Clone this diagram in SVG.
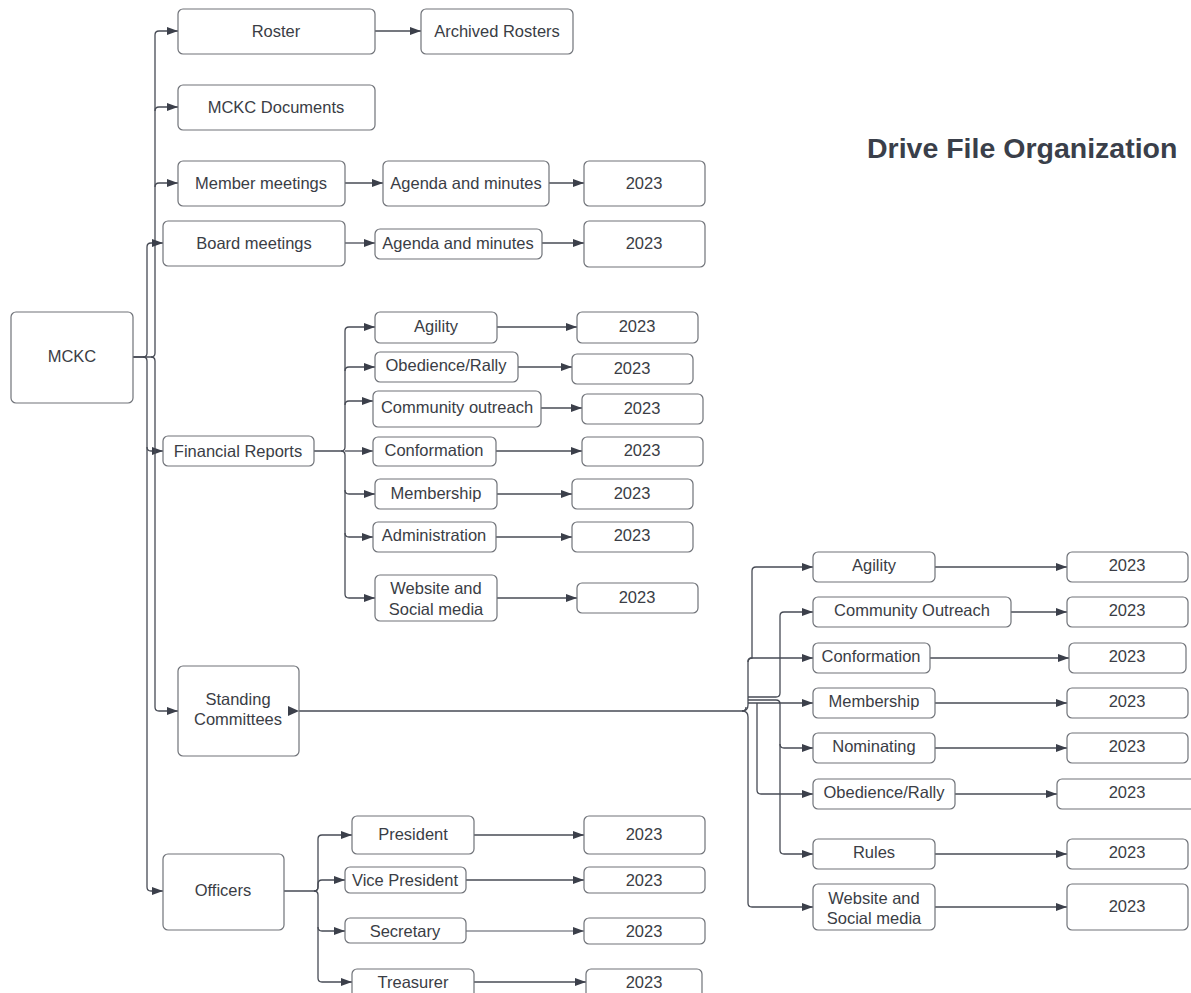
<svg xmlns="http://www.w3.org/2000/svg" width="1191" height="993" viewBox="0 0 1191 993">
<defs>
<marker id="arr" markerWidth="11" markerHeight="8" refX="11" refY="4" orient="auto" markerUnits="userSpaceOnUse"><path d="M0,0 L11,4 L0,8 z" fill="#3b3f4a"/></marker>
<style>
.n rect{fill:#fff;stroke:#707379;stroke-width:1.2}
.n text{font-family:"Liberation Sans",Arial,sans-serif;font-size:16.5px;fill:#3a3d45;text-anchor:middle;dominant-baseline:central}
.c path{fill:none;stroke:#474b55;stroke-width:1.3}
.c .a{marker-end:url(#arr)}
.title{font-family:"Liberation Sans",Arial,sans-serif;font-size:28.5px;font-weight:bold;fill:#3a3f4a}
</style>
</defs>
<rect width="1191" height="993" fill="#fff"/>
<text class="title" x="867" y="158">Drive File Organization</text>

<g class="c" id="connectors">
<path class="a" d="M133,357 H151 Q155,357 155,353 V35 Q155,31 159,31 H178"/>
<path class="a" d="M155,111 Q155,107 159,107 H178"/>
<path class="a" d="M155,187 Q155,183 159,183 H178"/>
<path class="a" d="M133,357 H143 Q147,357 147,353 V247 Q147,243 151,243 H163"/>
<path class="a" d="M143,357 Q147,357 147,361 V887 Q147,891 151,891 H163"/>
<path class="a" d="M147,447 Q147,451 151,451 H163"/>
<path class="a" d="M151,357 Q155,357 155,361 V707 Q155,711 159,711 H178"/>
<path class="a" d="M375,31 H421"/>
<path class="a" d="M345,183 H383"/>
<path class="a" d="M549,183 H584"/>
<path class="a" d="M345,243 H375"/>
<path class="a" d="M542,243 H584"/>
<path class="a" d="M314,451 H341 Q345,451 345,447 V331 Q345,327 349,327 H375"/>
<path class="a" d="M345,371 Q345,367 349,367 H375"/>
<path class="a" d="M345,405 Q345,401 349,401 H373"/>
<path class="a" d="M345,451 H373"/>
<path class="a" d="M341,451 Q345,451 345,455 V594 Q345,598 349,598 H375"/>
<path class="a" d="M345,490 Q345,494 349,494 H375"/>
<path class="a" d="M345,533 Q345,537 349,537 H373"/>
<path class="a" d="M497,327 H577"/>
<path class="a" d="M518,367 H572"/>
<path class="a" d="M541,408 H582"/>
<path class="a" d="M496,451 H582"/>
<path class="a" d="M497,494 H572"/>
<path class="a" d="M496,537 H572"/>
<path class="a" d="M497,598 H577"/>
<path d="M299,711 H742 Q746,711 746,707"/>
<path class="a" d="M742,711 Q748,711 748,705 V662 Q748,658 752,658 V571 Q752,567 756,567 H813"/>
<path class="a" d="M748,662 Q748,658 752,658 H813"/>
<path class="a" d="M748,697 H776 Q780,697 780,693 V616 Q780,612 784,612 H813"/>
<path class="a" d="M748,703 H813"/>
<path class="a" d="M748,700 H776 Q780,700 780,704 V744 Q780,748 784,748 H813"/>
<path class="a" d="M780,744 V850 Q780,854 784,854 H813"/>
<path class="a" d="M757,703 V790 Q757,794 761,794 H813"/>
<path class="a" d="M742,711 Q748,711 748,717 V903 Q748,907 752,907 H813"/>
<path class="a" d="M935,567 H1067"/>
<path class="a" d="M1011,612 H1067"/>
<path class="a" d="M930,658 H1069"/>
<path class="a" d="M935,703 H1067"/>
<path class="a" d="M935,748 H1067"/>
<path class="a" d="M955,794 H1057"/>
<path class="a" d="M935,854 H1067"/>
<path class="a" d="M935,907 H1067"/>
<path d="M284,891 H314 Q318,891 318,887 V839 Q318,835 322,835 H352" class="a"/>
<path class="a" d="M314,891 Q318,891 318,887 V884 Q318,880 322,880 H345"/>
<path class="a" d="M314,891 Q318,891 318,895 V927 Q318,931 322,931 H345"/>
<path class="a" d="M318,927 V978 Q318,982 322,982 H352"/>
<path class="a" d="M474,835 H584"/>
<path class="a" d="M466,880 H584"/>
<path class="a" d="M466,931 H584" style="stroke:#8a8d94"/>
<path class="a" d="M474,982 H586"/>
</g>

<g class="n" id="n-mckc"><rect x="11" y="312" width="122" height="91" rx="5"/><text x="72" y="356">MCKC</text></g>
<g class="n" id="n-roster"><rect x="178" y="9" width="197" height="45" rx="5"/><text x="276" y="31">Roster</text></g>
<g class="n" id="n-archived"><rect x="421" y="9" width="152" height="45" rx="5"/><text x="497" y="31">Archived Rosters</text></g>
<g class="n" id="n-docs"><rect x="178" y="85" width="197" height="45" rx="5"/><text x="276" y="107">MCKC Documents</text></g>
<g class="n" id="n-member"><rect x="178" y="161" width="167" height="45" rx="5"/><text x="261" y="183">Member meetings</text></g>
<g class="n" id="n-member-agenda"><rect x="383" y="161" width="166" height="45" rx="5"/><text x="466" y="183">Agenda and minutes</text></g>
<g class="n" id="n-member-2023"><rect x="584" y="161" width="121" height="45" rx="5"/><text x="644" y="183">2023</text></g>
<g class="n" id="n-board"><rect x="163" y="221" width="182" height="45" rx="5"/><text x="254" y="243">Board meetings</text></g>
<g class="n" id="n-board-agenda"><rect x="375" y="229" width="167" height="30" rx="5"/><text x="458" y="243">Agenda and minutes</text></g>
<g class="n" id="n-board-2023"><rect x="584" y="221" width="121" height="46" rx="5"/><text x="644" y="243">2023</text></g>
<g class="n" id="n-fin"><rect x="163" y="436" width="151" height="30" rx="5"/><text x="238" y="451">Financial Reports</text></g>

<g class="n" id="n-fin-agility"><rect x="375" y="312" width="122" height="31" rx="5"/><text x="436" y="326">Agility</text></g>
<g class="n" id="n-fin-agility-2023"><rect x="577" y="312" width="121" height="31" rx="5"/><text x="637" y="326">2023</text></g>
<g class="n" id="n-fin-obed"><rect x="375" y="352" width="143" height="30" rx="5"/><text x="446" y="365">Obedience/Rally</text></g>
<g class="n" id="n-fin-obed-2023"><rect x="572" y="354" width="121" height="30" rx="5"/><text x="632" y="368">2023</text></g>
<g class="n" id="n-fin-comm"><rect x="373" y="391" width="168" height="36" rx="5"/><text x="457" y="407">Community outreach</text></g>
<g class="n" id="n-fin-comm-2023"><rect x="582" y="394" width="121" height="30" rx="5"/><text x="642" y="408">2023</text></g>
<g class="n" id="n-fin-conf"><rect x="373" y="437" width="123" height="29" rx="5"/><text x="434" y="450">Conformation</text></g>
<g class="n" id="n-fin-conf-2023"><rect x="582" y="437" width="121" height="29" rx="5"/><text x="642" y="450">2023</text></g>
<g class="n" id="n-fin-memb"><rect x="375" y="479" width="122" height="30" rx="5"/><text x="436" y="493">Membership</text></g>
<g class="n" id="n-fin-memb-2023"><rect x="572" y="479" width="121" height="30" rx="5"/><text x="632" y="493">2023</text></g>
<g class="n" id="n-fin-admin"><rect x="373" y="522" width="123" height="30" rx="5"/><text x="434" y="535">Administration</text></g>
<g class="n" id="n-fin-admin-2023"><rect x="572" y="522" width="121" height="30" rx="5"/><text x="632" y="535">2023</text></g>
<g class="n" id="n-fin-web"><rect x="375" y="575" width="122" height="46" rx="5"/><text x="436" y="588">Website and</text><text x="436" y="609">Social media</text></g>
<g class="n" id="n-fin-web-2023"><rect x="577" y="583" width="121" height="30" rx="5"/><text x="637" y="597">2023</text></g>

<g class="n" id="n-sc"><rect x="178" y="666" width="121" height="90" rx="5"/><text x="238" y="699">Standing</text><text x="238" y="719">Committees</text></g>

<g class="n" id="n-sc-agility"><rect x="813" y="552" width="122" height="30" rx="5"/><text x="874" y="565">Agility</text></g>
<g class="n" id="n-sc-agility-2023"><rect x="1067" y="552" width="121" height="30" rx="5"/><text x="1127" y="565">2023</text></g>
<g class="n" id="n-sc-comm"><rect x="813" y="597" width="198" height="30" rx="5"/><text x="912" y="610">Community Outreach</text></g>
<g class="n" id="n-sc-comm-2023"><rect x="1067" y="597" width="121" height="30" rx="5"/><text x="1127" y="610">2023</text></g>
<g class="n" id="n-sc-conf"><rect x="813" y="643" width="117" height="30" rx="5"/><text x="871" y="656">Conformation</text></g>
<g class="n" id="n-sc-conf-2023"><rect x="1069" y="643" width="117" height="30" rx="5"/><text x="1127" y="656">2023</text></g>
<g class="n" id="n-sc-memb"><rect x="813" y="688" width="122" height="30" rx="5"/><text x="874" y="701">Membership</text></g>
<g class="n" id="n-sc-memb-2023"><rect x="1067" y="688" width="121" height="30" rx="5"/><text x="1127" y="701">2023</text></g>
<g class="n" id="n-sc-nom"><rect x="813" y="733" width="122" height="30" rx="5"/><text x="874" y="746">Nominating</text></g>
<g class="n" id="n-sc-nom-2023"><rect x="1067" y="733" width="121" height="30" rx="5"/><text x="1127" y="746">2023</text></g>
<g class="n" id="n-sc-obed"><rect x="813" y="779" width="142" height="30" rx="5"/><text x="884" y="792">Obedience/Rally</text></g>
<g class="n" id="n-sc-obed-2023"><rect x="1057" y="779" width="140" height="30" rx="5"/><text x="1127" y="792">2023</text></g>
<g class="n" id="n-sc-rules"><rect x="813" y="839" width="122" height="30" rx="5"/><text x="874" y="852">Rules</text></g>
<g class="n" id="n-sc-rules-2023"><rect x="1067" y="839" width="121" height="30" rx="5"/><text x="1127" y="852">2023</text></g>
<g class="n" id="n-sc-web"><rect x="813" y="884" width="122" height="46" rx="5"/><text x="874" y="898">Website and</text><text x="874" y="918">Social media</text></g>
<g class="n" id="n-sc-web-2023"><rect x="1067" y="884" width="121" height="46" rx="5"/><text x="1127" y="906">2023</text></g>

<g class="n" id="n-off"><rect x="163" y="854" width="121" height="76" rx="5"/><text x="223" y="890">Officers</text></g>
<g class="n" id="n-pres"><rect x="352" y="816" width="122" height="38" rx="5"/><text x="413" y="834">President</text></g>
<g class="n" id="n-pres-2023"><rect x="584" y="816" width="121" height="38" rx="5"/><text x="644" y="834">2023</text></g>
<g class="n" id="n-vp"><rect x="345" y="867" width="121" height="26" rx="5"/><text x="405" y="880">Vice President</text></g>
<g class="n" id="n-vp-2023"><rect x="584" y="867" width="121" height="26" rx="5"/><text x="644" y="880">2023</text></g>
<g class="n" id="n-sec"><rect x="345" y="918" width="121" height="25" rx="5"/><text x="405" y="931">Secretary</text></g>
<g class="n" id="n-sec-2023"><rect x="584" y="918" width="121" height="26" rx="5"/><text x="644" y="931">2023</text></g>
<g class="n" id="n-treas"><rect x="352" y="969" width="122" height="30" rx="5"/><text x="413" y="982">Treasurer</text></g>
<g class="n" id="n-treas-2023"><rect x="586" y="969" width="116" height="30" rx="5"/><text x="644" y="982">2023</text></g>

<polygon points="288,706 299,711 288,716" fill="#3b3f4a"/>
</svg>
